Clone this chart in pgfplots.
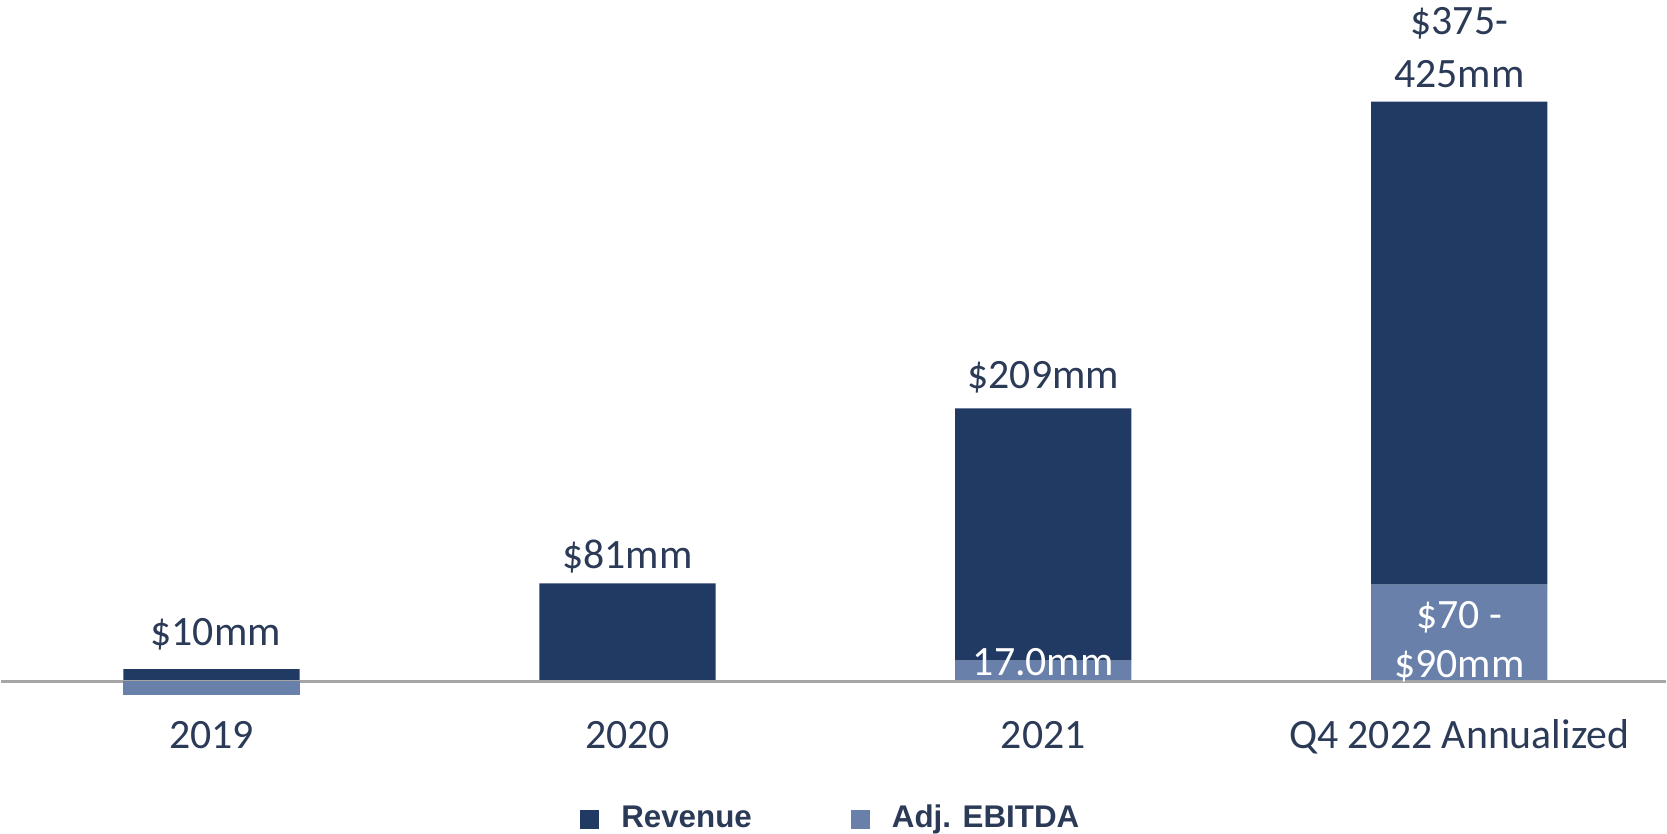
\documentclass[border=0pt]{standalone}
\usepackage{fontspec}
\setmainfont{Carlito}
\newfontfamily\arialfont{Liberation Sans}
\usepackage{pgfplots}
\pgfplotsset{compat=1.18}
\definecolor{rev}{HTML}{213A64}
\definecolor{ebit}{HTML}{6980AB}
\definecolor{txt}{HTML}{2B3A57}
\definecolor{axgray}{HTML}{A6A6A6}
\pgfplotsset{base/.style={scale only axis, width=15.68cm, height=7.85cm,
  xmin=-0.505, xmax=3.496, ymin=-125.7, ymax=564.1, clip=false, bar width=1.66cm}}
\newcommand{\lbl}{\fontsize{11.2}{13.4}\selectfont}
\tikzset{dl/.style={anchor=base, inner sep=0pt, text=txt, font=\lbl},
         wl/.style={anchor=base, inner sep=0pt, text=white, font=\lbl}}
\begin{document}
\begin{tikzpicture}
\begin{axis}[base, ybar stacked, hide axis,
  reverse legend,
  legend image code/.code={\fill[#1, draw=none] (0cm,-0.09cm) rectangle (0.18cm,0.09cm);},
  legend style={at={(axis cs:0.8857,-114.2)}, anchor=west, draw=none, fill=none,
    inner sep=0pt, outer sep=0pt, legend columns=2,
    font=\arialfont\bfseries\fontsize{8.4}{10}\selectfont, text=txt,
    nodes={inner sep=0pt},
    /tikz/every odd column/.append style={column sep=0.21cm},
    /tikz/every even column/.append style={column sep=0.93cm}},
]
\addplot[fill=ebit, draw=none] coordinates {(0,0) (1,0) (2,17) (3,80)};
\addplot[fill=rev, draw=none] coordinates {(0,10) (1,81) (2,209) (3,400)};
\legend{Adj. EBITDA, Revenue}
\path (rel axis cs:0,0) rectangle (rel axis cs:1,1);
\node[dl] at (axis cs:0.01,29.4) {\$10mm};
\node[dl] at (axis cs:1,93.6) {\$81mm};
\node[dl] at (axis cs:2,242.1) {\$209mm};
\node[dl] at (axis cs:3,535.6) {\$375-};
\node[dl] at (axis cs:3,491.7) {425mm};
\end{axis}
\begin{axis}[base, ybar, bar shift=0pt,
  axis x line=middle, axis y line=none,
  x axis line style={draw=axgray, line width=0.8pt, -},
  xtick={0,1,2,3}, xticklabels={2019,2020,2021,Q4 2022 Annualized},
  major tick length=0pt, ytick=\empty,
  xticklabel style={anchor=base, yshift=-0.635cm, text=txt, font=\lbl},
]
\addplot[fill=ebit, draw=none] coordinates {(0,-11)};
\node[wl] at (axis cs:2,4.8) {17.0mm};
\node[wl] at (axis cs:3,43.5) {\$70 -};
\node[wl] at (axis cs:3,3.1) {\$90mm};
\end{axis}
\end{tikzpicture}
\end{document}
